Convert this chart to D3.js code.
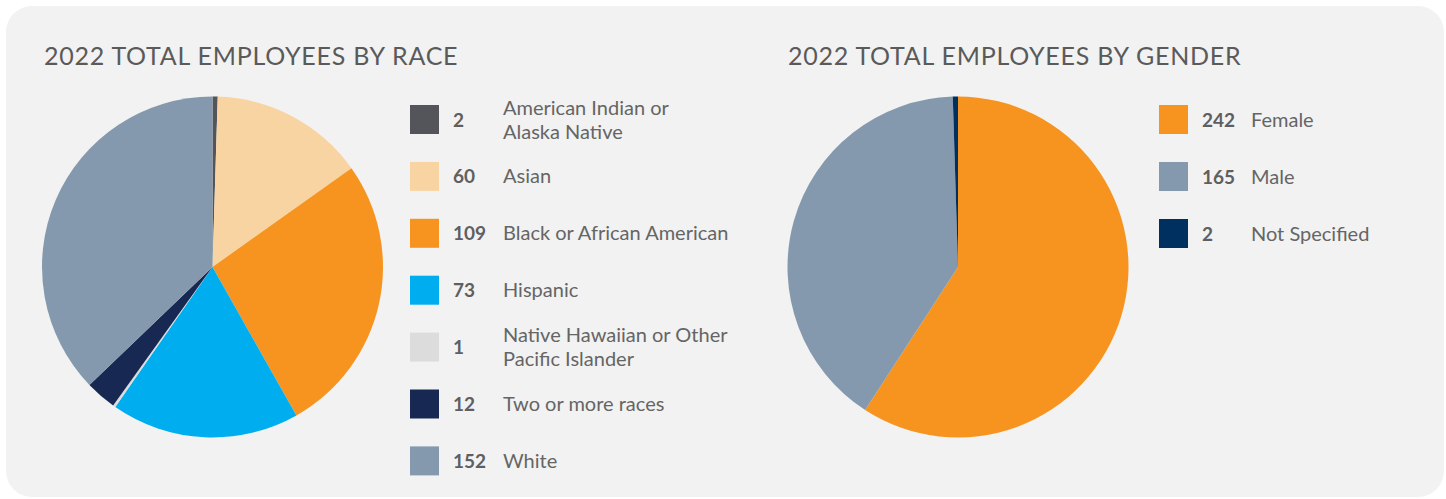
<!DOCTYPE html>
<html lang="en">
<head>
  <meta charset="UTF-8" />
  <title>2022 Total Employees</title>
  <script src="https://d3js.org/d3.v7.min.js"></script>
  <style>
    body {
      margin: 0;
      background: #fff;
      font-family: 'Lato', 'Noto Sans', sans-serif;
    }
    .title {
      fill: #5a5a5a;
      font-size: 25px;
      letter-spacing: 0.75px;
    }
    .value {
      fill: #5f5f5f;
      font-size: 19px;
      font-weight: 700;
    }
    .label {
      fill: #656565;
      font-size: 20px;
    }
  </style>
</head>
<body>
<script>
  // "\n" marks where the legend label breaks onto a second line
  const raceCategories = ["American Indian or\nAlaska Native", "Asian", "Black or African American",
    "Hispanic", "Native Hawaiian or Other\nPacific Islander", "Two or more races", "White"];
  const raceValues = [2, 60, 109, 73, 1, 12, 152];
  const raceColors = ["#54555a", "#f9d4a3", "#f7941f", "#00aeef", "#dcdcdc", "#172852", "#8499ae"];

  const genderCategories = ["Female", "Male", "Not Specified"];
  const genderValues = [242, 165, 2];
  const genderColors = ["#f7941f", "#8499ae", "#003060"];

  const width = 1446, height = 499;

  const svg = d3.select("body").append("svg")
    .attr("width", width)
    .attr("height", height);

  // grey card behind both charts
  svg.append("rect")
    .attr("x", 6).attr("y", 6)
    .attr("width", 1438).attr("height", 491)
    .attr("rx", 26)
    .attr("fill", "#f2f2f2");

  function drawPie(opts) {
    const { categories, values, colors, title, titleX, cx, cy, r,
            boxX, valueX, labelX, rowY, rowStep } = opts;

    const color = d3.scaleOrdinal().domain(categories).range(colors);
    const rows = categories.map((c, i) => ({ name: c, value: values[i] }));

    svg.append("text")
      .attr("class", "title")
      .attr("x", titleX).attr("y", 65)
      .text(title);

    const pie = d3.pie().sort(null).value(d => d.value);
    const arc = d3.arc().innerRadius(0).outerRadius(r);

    svg.append("g")
      .attr("transform", `translate(${cx},${cy})`)
      .selectAll("path")
      .data(pie(rows))
      .join("path")
      .attr("d", arc)
      .attr("fill", d => color(d.data.name));

    const y = d3.scalePoint()
      .domain(categories)
      .range([rowY, rowY + rowStep * (categories.length - 1)]);

    const legend = svg.append("g")
      .selectAll("g")
      .data(rows)
      .join("g")
      .attr("transform", d => `translate(0,${y(d.name)})`);

    legend.append("rect")
      .attr("x", boxX).attr("y", -14.5)
      .attr("width", 29).attr("height", 29)
      .attr("fill", d => color(d.name));

    legend.append("text")
      .attr("class", "value")
      .attr("x", valueX).attr("y", 7)
      .text(d => d.value);

    const lh = 24;
    legend.append("text")
      .attr("class", "label")
      .attr("y", 7)
      .selectAll("tspan")
      .data(d => {
        const lines = d.name.split("\n");
        return lines.map((t, i) => ({ t, dy: i === 0 ? -(lines.length - 1) * lh / 2 : lh }));
      })
      .join("tspan")
      .attr("x", labelX)
      .attr("dy", d => d.dy)
      .text(d => d.t);
  }

  drawPie({
    categories: raceCategories, values: raceValues, colors: raceColors,
    title: "2022 TOTAL EMPLOYEES BY RACE", titleX: 44,
    cx: 212.5, cy: 267, r: 170.5,
    boxX: 410, valueX: 453, labelX: 503, rowY: 119.5, rowStep: 56.9
  });

  drawPie({
    categories: genderCategories, values: genderValues, colors: genderColors,
    title: "2022 TOTAL EMPLOYEES BY GENDER", titleX: 788,
    cx: 958, cy: 267, r: 170.5,
    boxX: 1159, valueX: 1202, labelX: 1251, rowY: 119.5, rowStep: 57
  });
</script>
</body>
</html>
